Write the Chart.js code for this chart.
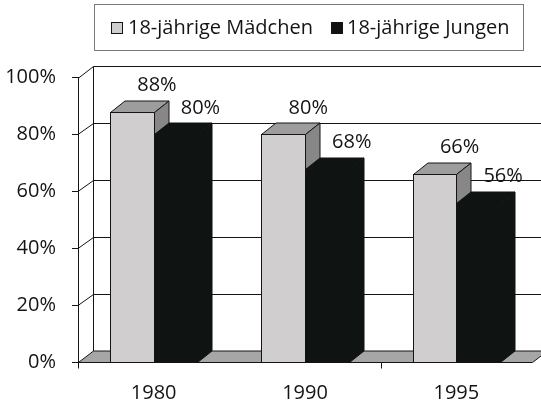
<!DOCTYPE html>
<html>
<head>
<meta charset="utf-8">
<script src="https://cdn.jsdelivr.net/npm/chart.js@4/dist/chart.umd.min.js"></script>
<style>
  html, body { margin: 0; padding: 0; background: #fff; }
  #wrap { width: 541px; height: 403px; }
</style>
</head>
<body>
<div id="wrap"><canvas id="chart"></canvas></div>
<script>
const years = ['1980', '1990', '1995'];
const girls = [88, 80, 66];
const boys = [80, 68, 56];
const seriesNames = ['18-jährige Mädchen', '18-jährige Jungen'];
const yTicks = [0, 20, 40, 60, 80, 100];

// depth of the fake 3d (screen offset of the back plane)
const DX = 14.5, DY = -11.5;
const FONT = '"Open Sans", sans-serif';
const FSIZE = 20;
const INK = '#141414';

// front / top / side colours for each series
const faces = [
    { front: '#d1cecf', top: '#9d9d9d', side: '#878787', line: INK },
    { front: '#0f1311', top: '#0f1311', side: '#0f1311', line: '#0f1311' }
];

const px = v => Math.round(v) + 0.5;

const bar3d = {
    id: 'bar3d',
    beforeDatasetsDraw(chart) {
        const ctx = chart.ctx;
        const area = chart.chartArea;
        const ys = chart.scales.y;
        const xs = chart.scales.x;
        const farRight = chart.width + 30;
        ctx.save();
        ctx.lineWidth = 1;
        ctx.strokeStyle = INK;

        // back wall: gridlines, connectors to the front axis, left edge
        ctx.beginPath();
        yTicks.forEach(v => {
            if (v === 0) return;
            const py = ys.getPixelForValue(v);
            ctx.moveTo(area.left, px(py));
            ctx.lineTo(px(area.left + DX), px(py + DY));
            ctx.lineTo(farRight, px(py + DY));
        });
        ctx.moveTo(px(area.left + DX), px(ys.getPixelForValue(100) + DY));
        ctx.lineTo(px(area.left + DX), px(ys.getPixelForValue(0) + DY));
        ctx.stroke();

        // floor
        const fy = px(ys.getPixelForValue(0));
        ctx.beginPath();
        ctx.moveTo(px(area.left), fy);
        ctx.lineTo(px(area.right), fy);
        ctx.lineTo(px(area.right + DX), fy + DY);
        ctx.lineTo(px(area.left + DX), fy + DY);
        ctx.closePath();
        ctx.fillStyle = '#a6a6a6';
        ctx.fill();
        ctx.stroke();

        // category ticks under the floor
        ctx.beginPath();
        [0, 2].forEach(i => {
            const bx = px(xs.getPixelForValue(i) - (xs.getPixelForValue(1) - xs.getPixelForValue(0)) / 2);
            ctx.moveTo(bx, fy);
            ctx.lineTo(bx, fy + 6);
        });
        ctx.stroke();

        // bars, left to right so the nearer right faces cover the others
        const metas = chart.data.datasets.map((d, i) => chart.getDatasetMeta(i));
        years.forEach((yr, j) => {
            metas.forEach((meta, i) => {
                const el = meta.data[j];
                const f = faces[i];
                const l = Math.round(el.x - el.width / 2), r = Math.round(el.x + el.width / 2);
                const t = Math.round(el.y), b = Math.round(el.base);
                ctx.strokeStyle = f.line;
                // front
                ctx.fillStyle = f.front;
                ctx.fillRect(l, t, r - l, b - t);
                ctx.strokeRect(l + 0.5, t + 0.5, r - l, b - t);
                // top
                ctx.beginPath();
                ctx.moveTo(l + 0.5, t + 0.5);
                ctx.lineTo(r + 0.5, t + 0.5);
                ctx.lineTo(r + DX + 0.5, t + DY + 0.5);
                ctx.lineTo(l + DX + 0.5, t + DY + 0.5);
                ctx.closePath();
                ctx.fillStyle = f.top;
                ctx.fill();
                ctx.stroke();
                // side
                ctx.beginPath();
                ctx.moveTo(r + 0.5, t + 0.5);
                ctx.lineTo(r + DX + 0.5, t + DY + 0.5);
                ctx.lineTo(r + DX + 0.5, b + DY + 0.5);
                ctx.lineTo(r + 0.5, b + 0.5);
                ctx.closePath();
                ctx.fillStyle = f.side;
                ctx.fill();
                ctx.stroke();
            });
        });

        // value labels
        ctx.fillStyle = INK;
        ctx.font = FSIZE + 'px ' + FONT;
        ctx.textAlign = 'center';
        ctx.textBaseline = 'middle';
        metas.forEach((meta, i) => {
            const vals = chart.data.datasets[i].data;
            meta.data.forEach((el, j) => {
                ctx.fillText(vals[j] + '%', el.x + 25, el.y + DY - 15);
            });
        });
        ctx.restore();
        return false;
    }
};

// boxed legend above the plot
const legendBox = {
    id: 'legendBox',
    afterDraw(chart) {
        const ctx = chart.ctx;
        ctx.save();
        ctx.lineWidth = 1;
        ctx.strokeStyle = '#7a7a7a';
        ctx.strokeRect(94.5, 4.5, 429, 46);
        const items = [{ sq: 111, tx: 128 }, { sq: 331, tx: 347 }];
        ctx.font = FSIZE + 'px ' + FONT;
        ctx.textBaseline = 'middle';
        ctx.textAlign = 'left';
        items.forEach((it, i) => {
            ctx.fillStyle = faces[i].front;
            ctx.fillRect(it.sq, 22, 12, 12);
            ctx.strokeStyle = INK;
            ctx.strokeRect(it.sq + 0.5, 22.5, 11, 11);
            ctx.fillStyle = INK;
            ctx.fillText(seriesNames[i], it.tx, 28);
        });
        ctx.restore();
    }
};

new Chart(document.getElementById('chart'), {
    type: 'bar',
    data: {
        labels: years,
        datasets: [
            { label: seriesNames[0], data: girls, backgroundColor: faces[0].front },
            { label: seriesNames[1], data: boys, backgroundColor: faces[1].front }
        ]
    },
    options: {
        responsive: true,
        maintainAspectRatio: false,
        animation: false,
        categoryPercentage: 0.575,
        barPercentage: 1,
        layout: { padding: { top: 77.5, right: 9, left: 0, bottom: 0 } },
        plugins: { legend: { display: false }, tooltip: { enabled: false } },
        scales: {
            x: {
                grid: { display: false },
                border: { display: false },
                ticks: { color: INK, font: { family: FONT, size: FSIZE }, padding: 11 },
                afterFit(s) { s.height = 41; }
            },
            y: {
                min: 0,
                max: 100,
                afterBuildTicks(s) { s.ticks = yTicks.map(v => ({ value: v })); },
                ticks: { color: INK, font: { family: FONT, size: FSIZE }, padding: 16, callback: v => v + '%' },
                grid: { drawOnChartArea: false, tickLength: 6, color: INK },
                border: { color: INK },
                afterFit(s) { s.width = 78; }
            }
        }
    },
    plugins: [bar3d, legendBox]
});
</script>
</body>
</html>
